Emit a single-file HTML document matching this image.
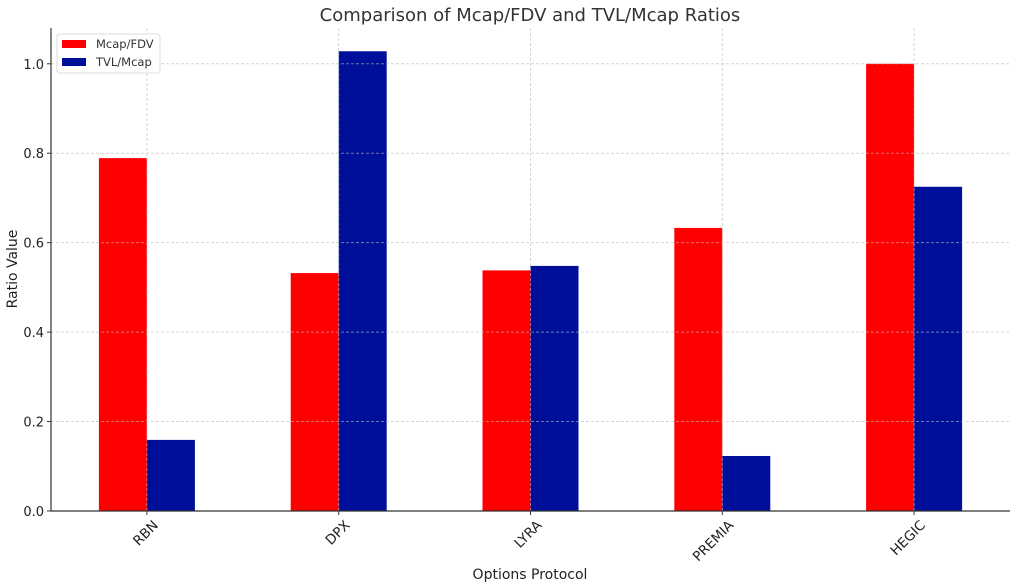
<!DOCTYPE html>
<html><head><meta charset="utf-8"><style>
body{margin:0;background:#fff;}
svg{display:block;font-family:"DejaVu Sans","Liberation Sans",sans-serif;}
</style></head><body>
<svg id="chart" width="1017" height="587">
<text x="530" y="21" text-anchor="middle" font-size="18" fill="#333">Comparison of Mcap/FDV and TVL/Mcap Ratios</text>
<g id="bars"></g>
<g id="grid"></g>
<g id="axes"></g>
<text x="530" y="579" text-anchor="middle" font-size="14" fill="#222">Options Protocol</text>
<text transform="translate(17,269) rotate(-90)" text-anchor="middle" font-size="14" fill="#222">Ratio Value</text>
<g>
<rect x="57" y="34" width="103" height="39" rx="3" fill="#fff" stroke="#ddd"/>
<g>
<rect x="62" y="40" width="24" height="8" fill="#ff0000"/>
<text x="96" y="48" font-size="11.5" fill="#333">Mcap/FDV</text></g>
<g>
<rect x="62" y="58" width="24" height="8" fill="#000f9a"/>
<text x="96" y="66" font-size="11.5" fill="#333">TVL/Mcap</text></g>
</g>
</svg>
<script>
const categories=["RBN","DPX","LYRA","PREMIA","HEGIC"];
const mcapFdv=[0.789,0.532,0.538,0.633,1.0];
const tvlMcap=[0.159,1.028,0.548,0.123,0.725];
const yTicks=[0,0.2,0.4,0.6,0.8,1.0];
const yTickLabels=["0.0","0.2","0.4","0.6","0.8","1.0"];
const L=51,R=1010,T=28,B=511,yMax=1.08;
const NS="http://www.w3.org/2000/svg";
function xs(i){return L+(i+0.5)*(R-L)/categories.length;}
function ys(v){return B-(v/yMax)*(B-T);}
function mk(tag,attrs,parent){const e=document.createElementNS(NS,tag);for(const k in attrs)e.setAttribute(k,attrs[k]);document.getElementById(parent).appendChild(e);return e;}
const bw=48;
yTicks.forEach((v,i)=>{
 const g=mk('line',{x1:L,x2:R,y1:ys(v),y2:ys(v),stroke:'#bbb','stroke-opacity':0.6,'stroke-dasharray':'3,2'},'grid');
 
 
 const t=mk('line',{x1:L-4,x2:L,y1:ys(v),y2:ys(v),stroke:'#333'},'axes');
 
 
 const l=mk('text',{x:L-7,y:ys(v)+5,'text-anchor':'end','font-size':'13',fill:'#222'},'axes');
 l.textContent=yTickLabels[i];
 
 
});
categories.forEach((c,i)=>{
 const x=xs(i);
 const g=mk('line',{x1:x,x2:x,y1:T,y2:B,stroke:'#bbb','stroke-opacity':0.6,'stroke-dasharray':'3,2'},'grid');
 
 
 const a=mk('rect',{x:x-bw,y:ys(mcapFdv[i]),width:bw,height:B-ys(mcapFdv[i]),fill:'#ff0000'},'bars');
 
 
 const b=mk('rect',{x:x,y:ys(tvlMcap[i]),width:bw,height:B-ys(tvlMcap[i]),fill:'#000f9a'},'bars');
 
 
 const t=mk('line',{x1:x,x2:x,y1:B,y2:B+4,stroke:'#333'},'axes');
 
 
 const l=mk('text',{transform:`translate(${x+12},${B+15}) rotate(-45)`,'text-anchor':'end','font-size':'13.5',fill:'#222'},'axes');
 l.textContent=c;
 
 
});
const ax=mk('line',{x1:L,x2:L,y1:T,y2:B,stroke:'#333','stroke-width':1.2},'axes');


const bx=mk('line',{x1:L,x2:R,y1:B,y2:B,stroke:'#333','stroke-width':1.2},'axes');


</script>
</body></html>
